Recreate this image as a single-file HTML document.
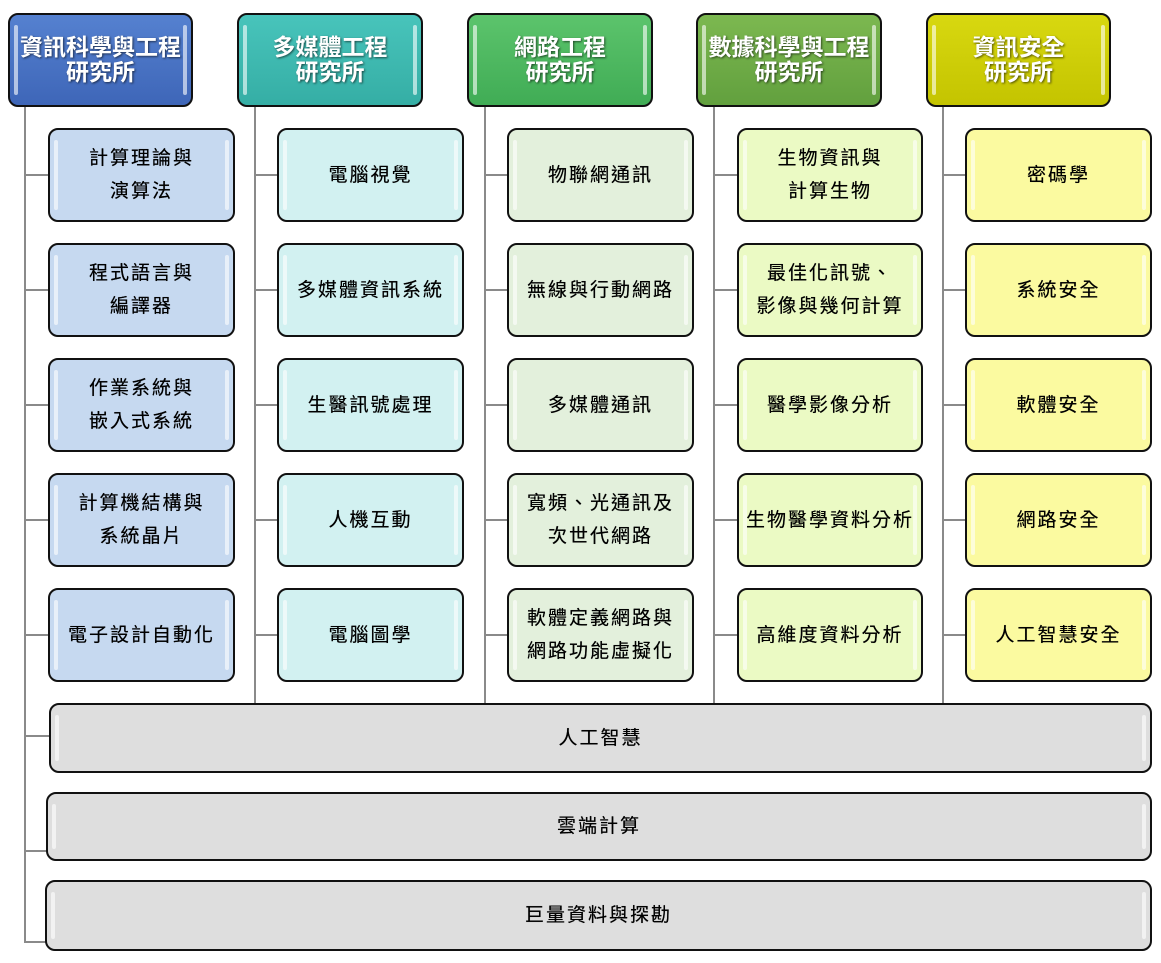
<!DOCTYPE html>
<html><head><meta charset="utf-8"><style>
body{margin:0;width:1161px;height:963px;background:#fff;position:relative;overflow:hidden;font-family:"Liberation Sans","Noto Sans CJK TC",sans-serif}
.b{position:absolute;box-sizing:border-box;border:2px solid #111;border-radius:10px;display:flex;align-items:center;justify-content:center;text-align:center}
.b::before,.b::after{content:"";position:absolute;top:10px;bottom:10px;width:4px;border-radius:3px;background:rgba(255,255,255,.6)}
.b::before{left:4px}.b::after{right:4px}
.h{color:#fff;font-size:23px;line-height:25px;font-weight:bold;text-shadow:1px 1px 2px rgba(0,0,0,.6)}
.c{color:#000;font-size:19px;line-height:33px;letter-spacing:2px;text-shadow:0 0 .4px #000}
.l{position:absolute;background:#8a8a8a}
.g{background:#dedede}
</style></head><body>
<div class="l" style="left:24px;top:106px;width:2px;height:837px"></div>
<div class="l" style="left:254px;top:106px;width:2px;height:597px"></div>
<div class="l" style="left:484px;top:106px;width:2px;height:597px"></div>
<div class="l" style="left:713px;top:106px;width:2px;height:597px"></div>
<div class="l" style="left:942px;top:106px;width:2px;height:597px"></div>
<div class="l" style="left:24px;top:735px;width:26px;height:2px"></div>
<div class="l" style="left:24px;top:850px;width:23px;height:2px"></div>
<div class="l" style="left:24px;top:941px;width:22px;height:2px"></div>
<div id="hl"></div>
<script>
var xs=[24,254,484,713,942],cx=[48,277,507,737,965],ys=[128,243,358,473,588];
var s='';for(var i=0;i<5;i++)for(var j=0;j<5;j++){s+='<div class="l" style="left:'+xs[i]+'px;top:'+(ys[j]+46)+'px;width:'+(cx[i]-xs[i])+'px;height:2px"></div>';}
document.getElementById('hl').innerHTML=s;
</script>
<div class="b h" style="left:8px;top:13px;width:185px;height:94px;background:linear-gradient(#5581d0,#3e66b8)">資訊科學與工程<br>研究所</div>
<div class="b h" style="left:237px;top:13px;width:186px;height:94px;background:linear-gradient(#48c4bb,#35aea5)">多媒體工程<br>研究所</div>
<div class="b h" style="left:467px;top:13px;width:186px;height:94px;background:linear-gradient(#5cc46c,#40ac55)">網路工程<br>研究所</div>
<div class="b h" style="left:696px;top:13px;width:186px;height:94px;background:linear-gradient(#7cb850,#62a03e)">數據科學與工程<br>研究所</div>
<div class="b h" style="left:926px;top:13px;width:185px;height:94px;background:linear-gradient(#d8d810,#c4c400)">資訊安全<br>研究所</div>
<div class="b c" style="left:48px;top:128px;width:187px;height:94px;background:#c6d9f0">計算理論與<br>演算法</div>
<div class="b c" style="left:48px;top:243px;width:187px;height:94px;background:#c6d9f0">程式語言與<br>編譯器</div>
<div class="b c" style="left:48px;top:358px;width:187px;height:94px;background:#c6d9f0">作業系統與<br>嵌入式系統</div>
<div class="b c" style="left:48px;top:473px;width:187px;height:94px;background:#c6d9f0">計算機結構與<br>系統晶片</div>
<div class="b c" style="left:48px;top:588px;width:187px;height:94px;background:#c6d9f0">電子設計自動化</div>
<div class="b c" style="left:277px;top:128px;width:187px;height:94px;background:#d2f1f1">電腦視覺</div>
<div class="b c" style="left:277px;top:243px;width:187px;height:94px;background:#d2f1f1">多媒體資訊系統</div>
<div class="b c" style="left:277px;top:358px;width:187px;height:94px;background:#d2f1f1">生醫訊號處理</div>
<div class="b c" style="left:277px;top:473px;width:187px;height:94px;background:#d2f1f1">人機互動</div>
<div class="b c" style="left:277px;top:588px;width:187px;height:94px;background:#d2f1f1">電腦圖學</div>
<div class="b c" style="left:507px;top:128px;width:187px;height:94px;background:#e3f0dc">物聯網通訊</div>
<div class="b c" style="left:507px;top:243px;width:187px;height:94px;background:#e3f0dc">無線與行動網路</div>
<div class="b c" style="left:507px;top:358px;width:187px;height:94px;background:#e3f0dc">多媒體通訊</div>
<div class="b c" style="left:507px;top:473px;width:187px;height:94px;background:#e3f0dc">寬頻、光通訊及<br>次世代網路</div>
<div class="b c" style="left:507px;top:588px;width:187px;height:94px;background:#e3f0dc">軟體定義網路與<br>網路功能虛擬化</div>
<div class="b c" style="left:737px;top:128px;width:186px;height:94px;background:#ebfac4">生物資訊與<br>計算生物</div>
<div class="b c" style="left:737px;top:243px;width:186px;height:94px;background:#ebfac4">最佳化訊號、<br>影像與幾何計算</div>
<div class="b c" style="left:737px;top:358px;width:186px;height:94px;background:#ebfac4">醫學影像分析</div>
<div class="b c" style="left:737px;top:473px;width:186px;height:94px;background:#ebfac4">生物醫學資料分析</div>
<div class="b c" style="left:737px;top:588px;width:186px;height:94px;background:#ebfac4">高維度資料分析</div>
<div class="b c" style="left:965px;top:128px;width:187px;height:94px;background:#fbfaa0">密碼學</div>
<div class="b c" style="left:965px;top:243px;width:187px;height:94px;background:#fbfaa0">系統安全</div>
<div class="b c" style="left:965px;top:358px;width:187px;height:94px;background:#fbfaa0">軟體安全</div>
<div class="b c" style="left:965px;top:473px;width:187px;height:94px;background:#fbfaa0">網路安全</div>
<div class="b c" style="left:965px;top:588px;width:187px;height:94px;background:#fbfaa0">人工智慧安全</div>
<div class="b c g" style="left:49px;top:703px;width:1103px;height:70px">人工智慧</div>
<div class="b c g" style="left:46px;top:792px;width:1106px;height:69px">雲端計算</div>
<div class="b c g" style="left:45px;top:880px;width:1107px;height:71px">巨量資料與探勘</div>
</body></html>
